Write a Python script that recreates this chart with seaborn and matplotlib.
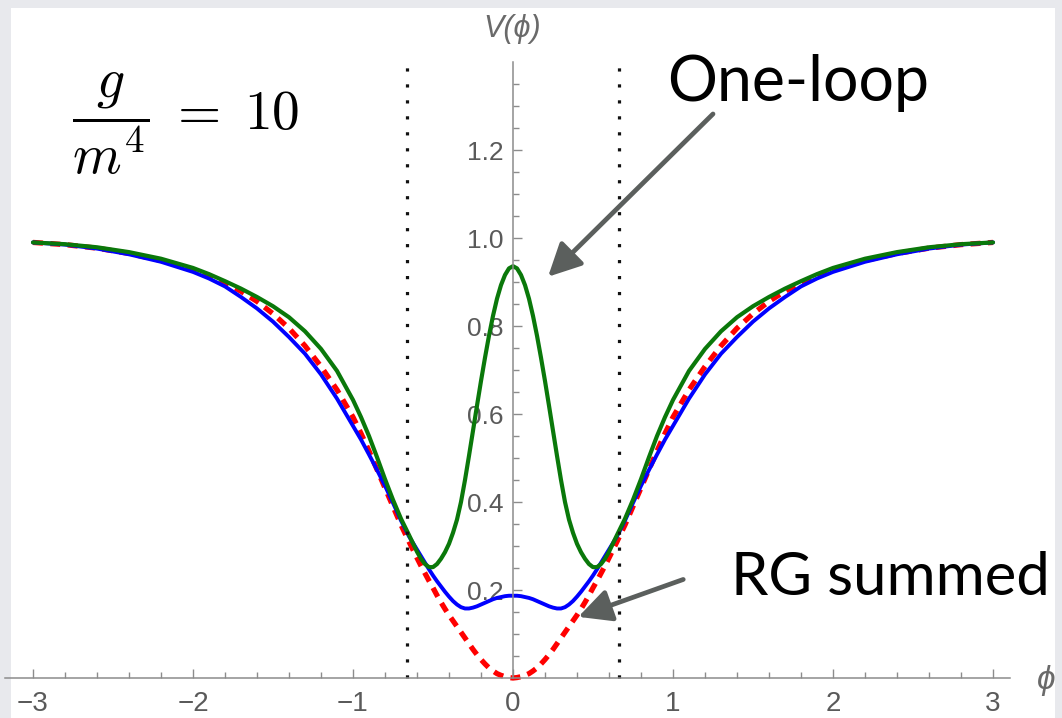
import numpy as np
import matplotlib
matplotlib.use("Agg")
import matplotlib.pyplot as plt
from matplotlib.patches import Rectangle
from matplotlib.ticker import FixedLocator
import seaborn as sns

# values for phi >= 0 (the curves are symmetric in phi)
phi_half = [0.0, 0.025, 0.05, 0.075, 0.1, 0.125, 0.15, 0.175, 0.2, 0.225, 0.25, 0.275, 0.3,
            0.325, 0.35, 0.375, 0.4, 0.425, 0.45, 0.475, 0.5, 0.525, 0.55, 0.575, 0.6,
            0.65, 0.7, 0.75, 0.8, 0.85, 0.9, 0.95, 1.0,
            1.1, 1.2, 1.3, 1.4, 1.5, 1.6, 1.7, 1.8, 1.9, 2.0,
            2.2, 2.4, 2.6, 2.8, 3.0]
# tree level (red dashed)
v_tree_half = [0.0, 0.001, 0.003, 0.006, 0.01, 0.016, 0.023, 0.032, 0.042, 0.053, 0.065, 0.078, 0.091,
               0.104, 0.117, 0.13, 0.143, 0.157, 0.172, 0.188, 0.205, 0.221, 0.238, 0.255, 0.273,
               0.31, 0.348, 0.39, 0.432, 0.474, 0.516, 0.556, 0.593,
               0.655, 0.708, 0.755, 0.795, 0.828, 0.856, 0.879, 0.898, 0.915, 0.928,
               0.949, 0.965, 0.977, 0.985, 0.99]
# RG summed (blue)
v_rg_half = [0.187, 0.187, 0.186, 0.184, 0.182, 0.179, 0.175, 0.171, 0.167, 0.163, 0.16, 0.158, 0.158,
             0.161, 0.167, 0.175, 0.185, 0.196, 0.208, 0.22, 0.233, 0.247, 0.262, 0.277, 0.292,
             0.322, 0.358, 0.398, 0.437, 0.473, 0.508, 0.542, 0.573,
             0.635, 0.69, 0.737, 0.775, 0.81, 0.84, 0.866, 0.89, 0.908, 0.923,
             0.946, 0.963, 0.976, 0.985, 0.99]
# one-loop (green)
v_oneloop_half = [0.936, 0.931, 0.916, 0.893, 0.862, 0.823, 0.778, 0.728, 0.675, 0.619, 0.562, 0.505, 0.45,
                  0.4, 0.36, 0.33, 0.305, 0.286, 0.271, 0.259, 0.252, 0.252, 0.259, 0.271, 0.287,
                  0.325, 0.362, 0.405, 0.452, 0.502, 0.55, 0.593, 0.632,
                  0.698, 0.748, 0.788, 0.82, 0.845, 0.866, 0.885, 0.902, 0.918, 0.932,
                  0.953, 0.968, 0.979, 0.986, 0.99]

phi_dotted = [-0.66, 0.66]
x_ticks = [-3, -2, -1, 0, 1, 2, 3]
y_ticks = [0.2, 0.4, 0.6, 0.8, 1.0, 1.2]

# arrows: (tail, tip) in data units
arrow_oneloop = [(1.25, 1.282), (0.219, 0.912)]
arrow_rg = [(1.064, 0.224), (0.408, 0.139)]


def full(half, sign=1):
    half = np.asarray(half, dtype=float)
    return np.concatenate([sign * half[:0:-1], half])


phi = full(phi_half, -1)
v_tree = full(v_tree_half)
v_rg = full(v_rg_half)
v_oneloop = full(v_oneloop_half)

sns.set_theme(style="white")
plt.rcParams["font.family"] = ["Liberation Sans", "DejaVu Sans"]
plt.rcParams["mathtext.fontset"] = "cm"

fig = plt.figure(figsize=(10.62, 7.18), dpi=100, facecolor="#e8e9ed")
panel = Rectangle((11 / 1062, 0), (1055 - 11) / 1062, 1 - 8 / 718, transform=fig.transFigure,
                  facecolor="white", edgecolor="none", zorder=-10)
fig.patches.append(panel)

ax = fig.add_axes([0, 0, 1, 1])
ax.patch.set_alpha(0)
ax.set_xlim(-3.206, 3.431)
ax.set_ylim(-0.0909, 1.541)

# curves
sns.lineplot(x=phi, y=v_tree, ax=ax, color="#ff0000", linewidth=3.8,
             linestyle=(0, (1.9, 1.4)), sort=False, estimator=None)
sns.lineplot(x=phi, y=v_rg, ax=ax, color="#0000ff", linewidth=2.8, sort=False, estimator=None)
sns.lineplot(x=phi, y=v_oneloop, ax=ax, color="#0a780a", linewidth=3.0, sort=False, estimator=None)

ax.vlines(phi_dotted, 0, 1.39, colors="#111111", linewidth=2.3, linestyles=(0, (1, 4.0)))

# Mathematica style axes through the origin
grey = "#8c8c8c"
for side in ["top", "right"]:
    ax.spines[side].set_visible(False)
ax.spines["left"].set_position(("data", 0))
ax.spines["bottom"].set_position(("data", 0))
ax.spines["left"].set_bounds(0, 1.40)
ax.spines["bottom"].set_bounds(-3.175, 3.106)
for side in ["left", "bottom"]:
    ax.spines[side].set_color(grey)
    ax.spines[side].set_linewidth(1.1)
ax.set_axisbelow(True)

ax.set_xticks(x_ticks)
ax.set_xticklabels(["\u22123", "\u22122", "\u22121", "0", "1", "2", "3"])
ax.xaxis.set_minor_locator(FixedLocator([t / 5 for t in range(-15, 16) if t % 5 != 0]))
ax.set_yticks(y_ticks)
ax.set_yticklabels(["0.2", "0.4", "0.6", "0.8", "1.0", "1.2"])
ax.yaxis.set_minor_locator(FixedLocator([t / 20 for t in range(1, 28) if t % 4 != 0]))
ax.tick_params(which="both", direction="in", bottom=True, left=True, color=grey, width=1.0,
               labelcolor="#5a5a5a")
ax.tick_params(axis="x", which="major", length=6.5, pad=9, labelsize=20)
ax.tick_params(axis="x", which="minor", length=4)
ax.tick_params(axis="y", which="major", length=6.5, pad=7, labelsize=19)
ax.tick_params(axis="y", which="minor", length=4)
ax.set_xlabel("")
ax.set_ylabel("")

fig.text(512 / 1062, 1 - 29 / 718, "V(\u03d5)", ha="center", va="center", fontsize=22,
         style="italic", color="#6a6a6a")
fig.text(1046 / 1062, 1 - 681 / 718, "\u03d5", ha="center", va="center", fontsize=24,
         style="italic", color="#6a6a6a")

# annotations
arrow_kw = dict(arrowstyle="-|>,head_length=0.4,head_width=0.2", color="#5b5f5d", lw=3.4,
                mutation_scale=50, shrinkA=0, shrinkB=0)
ax.annotate("", xy=arrow_oneloop[1], xytext=arrow_oneloop[0], arrowprops=arrow_kw)
ax.annotate("", xy=arrow_rg[1], xytext=arrow_rg[0], arrowprops=arrow_kw)

fig.text(667 / 1062, 1 - 101 / 718, "One-loop", ha="left", va="baseline", fontsize=45,
         family="Lato", color="black")
fig.text(731 / 1062, 1 - 595 / 718, "RG summed", ha="left", va="baseline", fontsize=43,
         family="Lato", color="black")

fig.text(72 / 1062, 1 - 124 / 718, r"$\dfrac{g}{m^4}\;=\;10$", ha="left", va="center",
         fontsize=40, color="black")

fig.savefig("out.png", dpi=100, facecolor=fig.get_facecolor())
